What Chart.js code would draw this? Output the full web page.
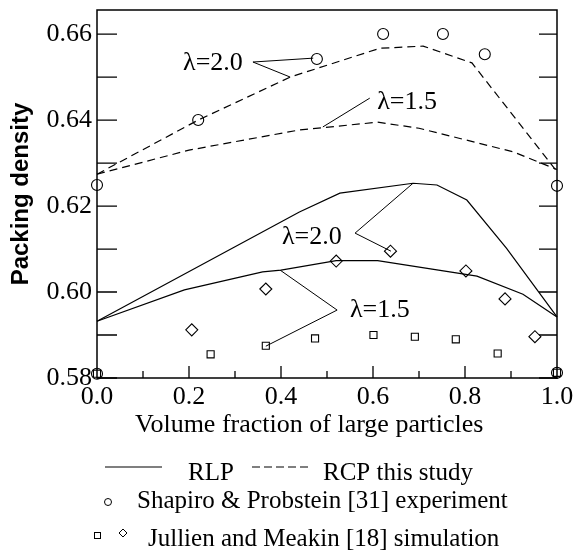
<!DOCTYPE html>
<html>
<head>
<meta charset="utf-8">
<script src="https://cdn.jsdelivr.net/npm/chart.js@4.4.1/dist/chart.umd.min.js"></script>
<style>
  html, body { margin: 0; padding: 0; background: #fff; }
</style>
</head>
<body>
<canvas id="packing" width="574" height="555"></canvas>
<script>
// RCP this study (dashed)
const rcp20X = [0, 0.22, 0.42, 0.615, 0.709, 0.815, 1.0];
const rcp20Y = [0.6274, 0.6400, 0.6500, 0.6567, 0.6572, 0.6533, 0.6280];
const rcp15X = [0, 0.2, 0.44, 0.61, 0.70, 0.905, 1.0];
const rcp15Y = [0.6274, 0.6330, 0.6377, 0.6395, 0.6381, 0.6326, 0.6285];

// RLP this study (solid)
const rlp20X = [0, 0.44, 0.528, 0.687, 0.739, 0.804, 0.89, 1.0];
const rlp20Y = [0.5932, 0.6186, 0.6230, 0.6253, 0.6249, 0.6214, 0.6102, 0.5942];
const rlp15X = [0, 0.19, 0.36, 0.40, 0.52, 0.61, 0.826, 0.926, 1.0];
const rlp15Y = [0.5932, 0.6005, 0.6047, 0.6051, 0.6073, 0.6073, 0.6037, 0.5995, 0.5942];

// Shapiro & Probstein [31] experiment
const shapiroX = [0, 0.22, 0.478, 0.622, 0.752, 0.843, 1.0, 0, 1.0];
const shapiroY = [0.6249, 0.6400, 0.6542, 0.6600, 0.6600, 0.6553, 0.6247, 0.5810, 0.5812];

// Jullien and Meakin [18] simulation
const diamondX = [0.206, 0.367, 0.52, 0.638, 0.802, 0.887, 0.952];
const diamondY = [0.5912, 0.6007, 0.6072, 0.6095, 0.6049, 0.5984, 0.5896];
const squareX = [0, 0.247, 0.367, 0.474, 0.601, 0.691, 0.780, 0.871, 1.0];
const squareY = [0.5810, 0.5855, 0.5875, 0.5892, 0.5900, 0.5896, 0.5890, 0.5857, 0.5812];

// lambda labels and their leader lines
const noteText = ['λ=2.0', 'λ=1.5', 'λ=2.0', 'λ=1.5'];
const noteX = [0.252, 0.674, 0.467, 0.615];
const noteY = [0.6533, 0.6442, 0.6128, 0.5958];
const leaderFromX = [0.339, 0.593, 0.561, 0.522];
const leaderFromY = [0.6535, 0.6451, 0.6137, 0.5958];
const leaderToX = [[0.42, 0.47], [0.491], [0.687, 0.639], [0.398, 0.367]];
const leaderToY = [[0.6500, 0.6544], [0.6384], [0.6253, 0.6095], [0.6051, 0.5874]];

const serif = "'Liberation Serif', 'Times New Roman', serif";
const pts = (xs, ys) => xs.map((x, i) => ({ x: x, y: ys[i] }));

const lineSet = (xs, ys, dashed) => ({
  data: pts(xs, ys),
  showLine: true,
  borderColor: '#000',
  borderWidth: 1.2,
  borderDash: dashed ? [8, 5] : [],
  pointRadius: 0,
  tension: 0,
  clip: false,
});

const markerSet = (xs, ys, style, radius) => ({
  data: pts(xs, ys),
  showLine: false,
  pointStyle: style,
  pointRadius: radius,
  pointBorderWidth: 1.1,
  pointBorderColor: '#000',
  pointBackgroundColor: 'rgba(0,0,0,0)',
  clip: false,
});

const decorations = {
  id: 'decorations',
  afterDatasetsDraw(chart) {
    const { ctx, chartArea: a, scales: { x, y } } = chart;
    ctx.save();
    ctx.strokeStyle = '#000';
    ctx.fillStyle = '#000';

    // frame
    ctx.lineWidth = 1.5;
    ctx.strokeRect(a.left, a.top, a.right - a.left, a.bottom - a.top);

    // inward ticks
    ctx.lineWidth = 1.3;
    ctx.beginPath();
    for (let i = 0; i <= 8; i++) {
      const py = y.getPixelForValue(0.58 + i * 0.01);
      ctx.moveTo(a.left, py); ctx.lineTo(a.left + 20, py);
      ctx.moveTo(a.right, py); ctx.lineTo(a.right - 18, py);
    }
    for (let i = 1; i < 10; i++) {
      const px = x.getPixelForValue(i / 10);
      ctx.moveTo(px, a.bottom); ctx.lineTo(px, a.bottom - (i % 2 === 0 ? 12 : 7));
    }
    ctx.stroke();

    // lambda notes
    ctx.lineWidth = 1;
    ctx.beginPath();
    leaderFromX.forEach((fx, i) => {
      leaderToX[i].forEach((tx, j) => {
        ctx.moveTo(x.getPixelForValue(fx), y.getPixelForValue(leaderFromY[i]));
        ctx.lineTo(x.getPixelForValue(tx), y.getPixelForValue(leaderToY[i][j]));
      });
    });
    ctx.stroke();
    ctx.font = '26px ' + serif;
    ctx.textAlign = 'center';
    ctx.textBaseline = 'middle';
    noteText.forEach((t, i) => {
      ctx.fillText(t, x.getPixelForValue(noteX[i]), y.getPixelForValue(noteY[i]));
    });
    ctx.restore();
  },
  afterDraw(chart) {
    const ctx = chart.ctx;
    ctx.save();
    ctx.strokeStyle = '#000';
    ctx.fillStyle = '#000';
    ctx.textAlign = 'left';
    ctx.textBaseline = 'alphabetic';

    // x axis title
    ctx.font = '26px ' + serif;
    ctx.fillText('Volume fraction of large particles', 135, 432);

    ctx.font = '25px ' + serif;
    ctx.lineWidth = 1.2;

    // row 1: RLP / RCP
    ctx.beginPath();
    ctx.moveTo(105, 467); ctx.lineTo(162, 467);
    ctx.stroke();
    ctx.fillText('RLP', 188, 480);
    ctx.setLineDash([8, 4]);
    ctx.beginPath();
    ctx.moveTo(252, 467); ctx.lineTo(310, 467);
    ctx.stroke();
    ctx.setLineDash([]);
    ctx.fillText('RCP this study', 323, 480);

    // row 2: circle
    ctx.lineWidth = 1;
    ctx.beginPath();
    ctx.arc(108, 502, 3.5, 0, Math.PI * 2);
    ctx.stroke();
    ctx.fillText('Shapiro & Probstein [31] experiment', 137, 508);

    // row 3: square and diamond
    ctx.strokeRect(94.5, 532.5, 6, 6);
    ctx.beginPath();
    ctx.moveTo(123, 529); ctx.lineTo(127, 533); ctx.lineTo(123, 537); ctx.lineTo(119, 533);
    ctx.closePath();
    ctx.stroke();
    ctx.fillText('Jullien and Meakin [18] simulation', 148, 546);
    ctx.restore();
  },
};

new Chart(document.getElementById('packing'), {
  type: 'scatter',
  data: {
    datasets: [
      markerSet(shapiroX, shapiroY, 'circle', 5.5),
      markerSet(diamondX, diamondY, 'rectRot', 6),
      markerSet(squareX, squareY, 'rect', 5),
      lineSet(rcp20X, rcp20Y, true),
      lineSet(rcp15X, rcp15Y, true),
      lineSet(rlp20X, rlp20Y, false),
      lineSet(rlp15X, rlp15Y, false),
    ],
  },
  options: {
    responsive: false,
    animation: false,
    layout: { padding: { left: 0, top: 10, right: 17, bottom: 0 } },
    plugins: { legend: { display: false }, tooltip: { enabled: false } },
    scales: {
      x: {
        type: 'linear',
        min: 0,
        max: 1,
        grid: { display: false, drawTicks: false },
        border: { display: false },
        ticks: {
          stepSize: 0.2,
          padding: 4,
          maxRotation: 0,
          color: '#000',
          font: { family: serif, size: 26 },
          callback: (v) => v.toFixed(1),
        },
        afterFit(scale) {
          scale.height = 177;
          scale.paddingLeft = 0;
          scale.paddingRight = 0;
        },
      },
      y: {
        type: 'linear',
        min: 0.58,
        max: 0.6656,
        grid: { display: false, drawTicks: false },
        border: { display: false },
        ticks: {
          stepSize: 0.02,
          includeBounds: false,
          padding: 5,
          color: '#000',
          font: { family: serif, size: 26 },
          callback: (v) => v.toFixed(2),
        },
        title: {
          display: true,
          text: 'Packing density',
          color: '#000',
          font: { family: "'Liberation Sans', Arial, sans-serif", size: 24, weight: 'bold' },
          padding: { top: 7, bottom: 0 },
        },
        afterFit(scale) {
          scale.width = 97;
          scale.paddingTop = 0;
          scale.paddingBottom = 0;
        },
      },
    },
  },
  plugins: [decorations],
});
</script>
</body>
</html>
